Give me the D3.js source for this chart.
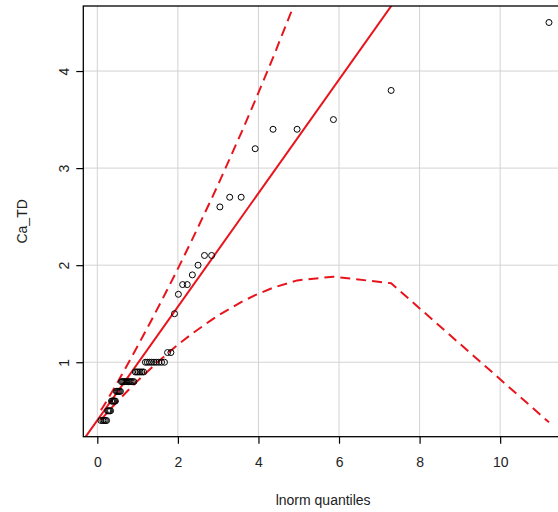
<!DOCTYPE html>
<html>
<head>
<meta charset="utf-8">
<script src="https://cdn.jsdelivr.net/npm/d3@7"></script>
<style>
  html, body { margin: 0; padding: 0; background: #fff; }
  svg { display: block; font-family: "Liberation Sans", Arial, sans-serif; }
</style>
</head>
<body>
<svg id="chart" width="558" height="512"></svg>
<script>
// Theoretical lnorm quantiles (x) for the 64 sorted observations
const quantiles = [
  0.0892,0.1371,0.1706,0.2024,0.2295,0.2552,0.2801,0.3043,0.3284,0.3524,0.3762,0.3998,0.4238,0.4479,0.4721,0.4969,
  0.5219,0.5475,0.5734,0.5999,0.6270,0.6547,0.6831,0.7123,0.7422,0.7730,0.8050,0.8376,0.8715,0.9066,0.9429,0.9806,
  1.0198,1.0606,1.1030,1.1474,1.1939,1.2422,1.2936,1.3473,1.4040,1.4639,1.5273,1.5949,1.6670,1.7439,1.8265,1.9159,
  2.0123,2.1183,2.2327,2.3594,2.5008,2.6599,2.8380,3.0429,3.2865,3.5706,3.9192,4.3620,4.9594,5.8611,7.2937,11.212
];
// Sorted Ca_TD values
const caTD = [
  0.4,0.4,0.4,0.4,0.4, 0.5,0.5,0.5,0.5, 0.6,0.6,0.6,0.6,0.6, 0.7,0.7,0.7,0.7,0.7,
  0.8,0.8,0.8,0.8,0.8,0.8,0.8,0.8,0.8,0.8,0.8, 0.9,0.9,0.9,0.9,0.9,0.9,
  1.0,1.0,1.0,1.0,1.0,1.0,1.0,1.0,1.0, 1.1,1.1,1.5,1.7,1.8,1.8,1.9,2.0,2.1,2.1,
  2.6,2.7,2.7,3.2,3.4,3.4,3.5,3.8,4.5
];
// Reference line (quartile fit)
const lineIntercept = 0.402;
const lineSlope = 0.585;
// Confidence envelope read at selected quantile positions
const envX =     [0.0892,0.1371,0.2024,0.3043,0.3998,0.4969,0.5999,0.7123,0.8376,0.9806,1.1474,1.3473,1.5949,1.9159,2.1183,2.3594,2.8380,3.0429,3.5706,3.9192,4.3620,4.9594,5.8611,7.2937,11.212];
const envLower = [0.402,0.429,0.461,0.509,0.552,0.595,0.640,0.688,0.741,0.800,0.866,0.944,1.037,1.151,1.219,1.296,1.437,1.493,1.620,1.691,1.768,1.843,1.882,1.814,0.381];
const envUpper = [0.507,0.536,0.580,0.652,0.720,0.790,0.866,0.949,1.043,1.152,1.280,1.436,1.633,1.894,2.063,2.268,2.686,2.871,3.361,3.697,4.138,4.762,5.778,7.521,13.54];
const xTicks = [0,2,4,6,8,10];
const yTicks = [1,2,3,4];
const xLabel = "lnorm quantiles";
const yLabel = "Ca_TD";

const svg = d3.select("#chart");
const L = 83.3, R = 563, T = 6, B = 436.7;
const x = d3.scaleLinear().domain([-0.348, 11.56]).range([L, R]);
const y = d3.scaleLinear().domain([0.233, 4.67]).range([B, T]);
const FONT = "Liberation Sans, Arial, sans-serif";

svg.append("rect").attr("width",558).attr("height",512).attr("fill","#fff");

svg.append("defs").append("clipPath").attr("id","clip")
  .append("rect").attr("x",L).attr("y",T).attr("width",R-L).attr("height",B-T);

// grid
const grid = svg.append("g").attr("stroke","#d3d3d3").attr("stroke-width",1);
grid.selectAll("line.vx").data(xTicks).join("line")
  .attr("x1",d=>x(d)).attr("x2",d=>x(d)).attr("y1",T).attr("y2",B);
grid.selectAll("line.hy").data(yTicks).join("line")
  .attr("y1",d=>y(d)).attr("y2",d=>y(d)).attr("x1",L).attr("x2",R);

const plot = svg.append("g").attr("clip-path","url(#clip)");
const red = "#e8141c";

// reference line
plot.append("line")
  .attr("x1", x(-0.348)).attr("y1", y(lineIntercept + lineSlope*-0.348))
  .attr("x2", x(11.56)).attr("y2", y(lineIntercept + lineSlope*11.56))
  .attr("stroke", red).attr("stroke-width", 2);

// envelope
const lineGen = d3.line().x(d=>x(d[0])).y(d=>y(d[1]));
[envLower, envUpper].forEach(arr => {
  plot.append("path")
    .attr("d", lineGen(envX.map((v,i)=>[v, arr[i]])))
    .attr("fill","none").attr("stroke",red).attr("stroke-width",2)
    .attr("stroke-dasharray","10,6");
});

// points
plot.selectAll("circle").data(quantiles.map((q,i)=>[q, caTD[i]])).join("circle")
  .attr("cx", d=>x(d[0])).attr("cy", d=>y(d[1])).attr("r", 3)
  .attr("fill","none").attr("stroke","#000").attr("stroke-width",1);

// box
svg.append("rect").attr("x",L).attr("y",T).attr("width",R-L).attr("height",B-T)
  .attr("fill","none").attr("stroke","#000").attr("stroke-width",1.3);

// x axis
const xa = svg.append("g").attr("transform",`translate(0,${B})`)
  .call(d3.axisBottom(x).tickValues(xTicks).tickSize(7).tickPadding(13).tickFormat(d3.format("d")));
xa.select(".domain").remove();
xa.selectAll("line").attr("stroke","#000").attr("stroke-width",1.2);
xa.selectAll("text").attr("font-size",14).attr("fill","#222").attr("font-family",FONT);

// y axis
const ya = svg.append("g").attr("transform",`translate(${L},0)`)
  .call(d3.axisLeft(y).tickValues(yTicks).tickSize(7).tickFormat(d3.format("d")));
ya.select(".domain").remove();
ya.selectAll("line").attr("stroke","#000").attr("stroke-width",1.2);
ya.selectAll("text").remove();
ya.selectAll("g.tick").append("text")
  .attr("transform","translate(-14,0) rotate(-90)")
  .attr("text-anchor","middle")
  .attr("font-size",14).attr("fill","#222").attr("font-family",FONT)
  .text(d=>d);

svg.append("text").attr("x", (L+R)/2).attr("y", 505).attr("text-anchor","middle")
  .attr("font-size",14).attr("fill","#222").attr("font-family",FONT).text(xLabel);
svg.append("text").attr("transform",`translate(27,${(T+B)/2}) rotate(-90)`).attr("text-anchor","middle")
  .attr("font-size",14).attr("fill","#222").attr("font-family",FONT).text(yLabel);
</script>
</body>
</html>
